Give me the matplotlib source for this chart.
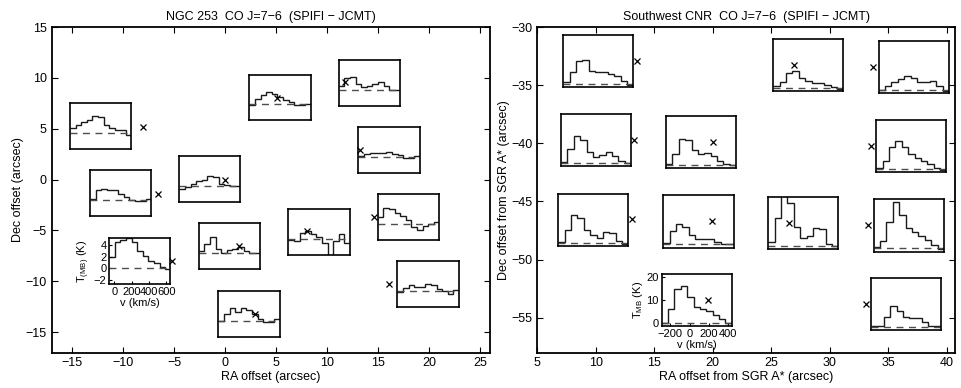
# -*- coding: utf-8 -*-

import numpy as np
import matplotlib.pyplot as plt

plt.rcParams['font.family'] = ['Liberation Sans', 'DejaVu Sans']
plt.rcParams['font.size'] = 8
plt.rcParams['mathtext.fontset'] = 'custom'
plt.rcParams['mathtext.rm'] = 'Liberation Sans'
plt.rcParams['axes.linewidth'] = 1.3

#---- NGC 253 ----#
ngc_ra = [-8.0, -6.6, 0.0, 5.1, 11.75, 13.2, 14.6, -5.2, 1.4, 8.05, 2.9, 16.1]
ngc_dec = [5.2, -1.4, 0.0, 8.05, 9.55, 2.95, -3.65, -8.0, -6.5, -5.1, -13.2, -10.3]
ngc_vel = [-60, 5, 70, 135, 200, 265, 330, 395, 460, 525, 590, 655]
ngc_spec = [
    [1.0, 1.5, 2.0, 2.4, 3.0, 2.8, 1.5, 0.9, 0.5, 0.5, -0.35],
    [0.1, 1.8, 1.9, 1.8, 1.8, 1.0, 0.5, 0.0, -0.2, -0.2, 0.1],
    [-0.5, -0.2, 0.3, 0.8, 1.0, 1.8, 1.6, 0.3, 0.1, 0.0, 0.0],
    [-0.1, 1.0, 1.7, 2.1, 1.8, 1.2, 0.8, 0.4, -0.1, -0.1, 0.0],
    [0.7, 2.0, 2.2, 0.9, 0.5, 0.7, 1.0, 1.3, 0.6, 0.0, 0.0],
    [0.1, 0.5, 0.7, 0.7, 0.7, 0.8, 0.6, 0.3, -0.1, -0.1, 0.2],
    [1.2, 2.9, 2.6, 1.9, 1.4, 0.7, -0.5, -1.0, -0.3, 0.1, 0.4],
    [2.0, 4.6, 5.0, 5.2, 4.6, 3.0, 2.2, 1.2, 1.0, 0.3, -0.2],
    [0.3, 1.6, 2.9, 0.8, 0.1, 0.6, 0.8, 1.0, 0.4, 0.0, 0.0],
    [-0.3, -0.5, 1.0, 1.4, 0.8, 0.2, -0.7, -4.0, -0.5, 0.8, -0.8],
    [0.0, 1.2, 2.1, 1.5, 2.2, 1.8, 1.2, 0.3, -0.2, -0.3, 0.3],
    [-0.1, 0.5, 1.0, 0.7, 0.8, 1.2, 1.0, 0.3, 0.0, -0.4, 0.2],
]

#---- Southwest CNR ----#
cnr_ra = [13.5, 26.9, 33.7, 13.25, 20.0, 33.5, 13.1, 19.9, 26.55, 33.25, 19.6, 33.1]
cnr_dec = [-32.95, -33.25, -33.45, -39.75, -39.9, -40.2, -46.55, -46.7, -46.9, -47.05, -53.45, -53.8]
cnr_vel = [-290, -224, -158, -92, -26, 40, 106, 172, 238, 304, 370, 436]
cnr_spec = [
    [0.8, 5.0, 10.0, 10.3, 5.5, 5.0, 5.2, 4.5, 3.5, 1.2, -0.3],
    [0.5, 2.5, 6.5, 7.1, 4.0, 2.7, 2.2, 1.8, 1.0, 0.2, -0.5],
    [0.0, 1.5, 3.3, 4.8, 6.2, 5.0, 3.3, 3.5, 3.8, 1.5, -0.5],
    [0.3, 6.0, 11.5, 10.0, 4.5, 2.5, 3.5, 4.5, 3.0, 0.8, -0.3],
    [0.5, 4.5, 11.0, 10.8, 6.5, 4.5, 5.0, 4.0, 1.5, 0.3, -0.3],
    [0.5, 3.5, 9.5, 12.3, 9.5, 6.5, 5.0, 3.5, 2.0, 0.5, -0.3],
    [0.3, 5.5, 11.8, 10.8, 5.5, 3.5, 2.2, 4.8, 4.0, 0.5, -0.5],
    [0.5, 5.5, 8.8, 7.5, 4.0, 2.2, 2.0, 2.0, 1.0, 0.0, 0.0],
    [1.5, 12.0, 25.0, 18.5, 8.0, 3.5, 4.5, 7.7, 7.5, 1.0, 0.0],
    [0.3, 3.0, 11.5, 19.9, 14.4, 9.0, 7.0, 5.5, 3.5, 1.2, -0.5],
    [0.0, 6.0, 14.5, 15.9, 11.0, 7.0, 5.8, 5.0, 3.5, 1.5, -0.3],
    [0.3, 0.6, 4.5, 9.0, 7.0, 4.5, 3.8, 3.8, 2.0, 0.3, 0.5],
]

# inset lower-left corners in map coordinates (size 6 x 4.5 arcsec)
ngc_box = [(-15.2, 2.98), (-13.24, -3.58), (-4.48, -2.2), (2.39, 5.83),
           (11.17, 7.27), (13.09, 0.65), (15.0, -5.96), (-11.35, -10.29),
           (-2.57, -8.81), (6.22, -7.37), (-0.65, -15.43), (16.92, -12.55)]
cnr_box = [(7.22, -35.19), (25.17, -35.51), (34.18, -35.71), (7.03, -41.97),
           (16.0, -42.14), (33.97, -42.51), (6.79, -48.84), (15.77, -48.97),
           (24.74, -49.12), (33.75, -49.32), (15.63, -55.73), (33.52, -56.1)]


def draw_panel(ax, ra, dec, vel, spec, boxes, vlim, tlim, lab_idx, vticks, tticks, tlabel):
    ax.plot(ra, dec, 'x', color='k', markersize=4.5, markeredgewidth=0.9, zorder=10)
    for i, (x0, y0) in enumerate(boxes):
        ins = ax.inset_axes([x0, y0, 6.0, 4.5], transform=ax.transData)
        ins.set_facecolor('none')
        ins.stairs(spec[i], vel, baseline=None, color='0.1', linewidth=1.0)
        ins.axhline(0, color='0.3', linestyle=(0, (5, 4)), linewidth=1.0)
        ins.set_xlim(vlim)
        ins.set_ylim(tlim)
        for s in ins.spines.values():
            s.set_linewidth(1.2)
        if i == lab_idx:
            ins.set_xticks(vticks)
            ins.set_yticks(tticks)
            ins.tick_params(direction='in', length=2, pad=2, labelsize=8)
            ins.set_xlabel('v (km/s)', labelpad=1)
            ins.set_ylabel(tlabel, labelpad=1)
        else:
            ins.set_xticks([])
            ins.set_yticks([])


fig = plt.figure(figsize=(9.62, 3.88), dpi=100)

ax1 = fig.add_axes([51.7/962, 1-352.5/388, (490-51.7)/962, (352.5-27)/388])
ax2 = fig.add_axes([537.3/962, 1-352.5/388, (955-537.3)/962, (352.5-27)/388])

draw_panel(ax1, ngc_ra, ngc_dec, ngc_vel, ngc_spec, ngc_box, (-60, 650), (-2.8, 5.2),
           7, [0, 200, 400, 600], [-2, 0, 2, 4], r'T$_{\rm (MB)}$ (K)')
draw_panel(ax2, cnr_ra, cnr_dec, cnr_vel, cnr_spec, cnr_box, (-290, 436), (-1.5, 21.3),
           10, [-200, 0, 200, 400], [0, 10, 20], r'T$_{\rm MB}$ (K)')

ax1.set_xlim(-17, 26)
ax1.set_ylim(-17, 15)
ax1.set_xticks(np.arange(-15, 26, 5))
ax1.set_yticks(np.arange(-15, 16, 5))
ax1.set_xlabel('RA offset (arcsec)', fontsize=9, labelpad=1)
ax1.set_ylabel('Dec offset (arcsec)', fontsize=9, labelpad=1)
ax1.set_title(u'NGC 253  CO J=7\u22126  (SPIFI \u2212 JCMT)', fontsize=9, pad=5)

ax2.set_xlim(5, 40.7)
ax2.set_ylim(-58, -30)
ax2.set_xticks(np.arange(5, 41, 5))
ax2.set_yticks(np.arange(-55, -29, 5))
ax2.set_xlabel('RA offset from SGR A* (arcsec)', fontsize=9, labelpad=1)
ax2.set_ylabel('Dec offset from SGR A* (arcsec)', fontsize=9, labelpad=1)
ax2.set_title(u'Southwest CNR  CO J=7\u22126  (SPIFI \u2212 JCMT)', fontsize=9, pad=5)

for ax in (ax1, ax2):
    ax.tick_params(direction='in', top=True, right=True, length=4, width=0.8, labelsize=9)

plt.savefig('out.png', dpi=100)
